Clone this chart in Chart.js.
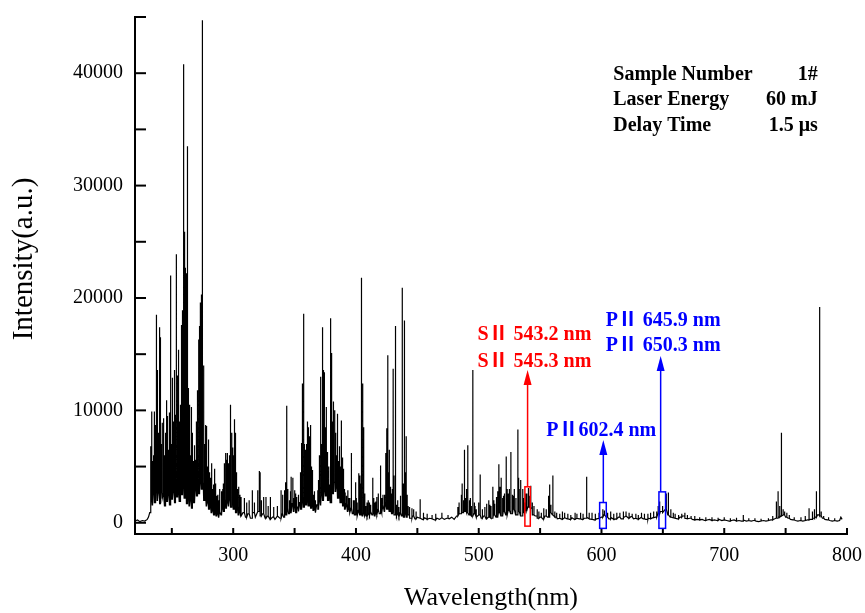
<!DOCTYPE html>
<html><head><meta charset="utf-8">
<script src="https://cdn.jsdelivr.net/npm/chart.js@4.4.1/dist/chart.umd.min.js"></script>
<style>html,body{margin:0;padding:0;background:#fff;}#wrap{width:865px;height:613px;}</style>
</head><body><div id="wrap"><canvas id="c" width="865" height="613"></canvas></div>
<script>
// ---- continuum (background) samples ----
const continuumNm = [
220,222,224,226,228,230,231,232,
233,234,235,236,237,238,239,240,241,242,
243,244,245,246,247,248,249,250,251,252,
253,254,255,256,257,258,259,260,261,262,
263,264,265,266,267,268,269,270,271,272,
273,274,275,276,277,278,279,280,281,282,
283,284,285,286,287,288,289,290,
291,292,293,294,295,296,297,298,299,300,
301,302,303,304,305,306,
308,310,312,314,316,318,320,322,324,326,
328,330,332,334,336,338,340,
341,342,343,344,345,346,347,348,349,350,
351,352,353,354,355,356,357,358,359,360,
361,362,363,364,365,366,367,368,369,370,
371,372,373,374,375,376,377,378,379,380,
381,382,383,384,385,386,387,388,389,390,
391,392,393,394,395,396,397,398,399,400,
401,402,403,404,405,406,407,408,409,410,
411,412,413,414,415,416,417,418,419,420,
421,422,423,424,425,426,427,428,429,430,
431,432,433,434,435,436,437,438,439,440,
441,
442,444,446,448,450,452,454,456,458,460,
462,464,466,468,470,472,474,476,478,480,
482,484,486,488,490,492,494,496,498,500,
502,504,506,508,510,512,514,516,518,520,
522,524,526,528,530,532,534,536,538,540,
542,544,546,548,550,552,554,556,558,560,
562,564,566,568,570,572,574,576,578,580,
582,584,586,588,590,592,594,596,598,600,
602,604,606,608,610,612,614,616,618,620,
622,624,626,628,630,632,634,636,638,640,
642,644,646,648,650,652,654,656,658,660,
662,664,666,668,670,672,674,676,678,680,
682,684,686,688,690,692,694,696,698,700,
702,704,706,708,710,712,714,716,718,720,
722,724,726,728,730,732,734,736,738,740,
742,744,746,748,750,752,754,756,758,760,
762,764,766,768,770,772,774,776,778,780,
782,784,786,788,790,792,794,795,796
];
const continuumLevel = [
150,250,100,200,150,300,500,900,
2200,1600,3000,1800,3500,2000,2800,1700,3200,2200,
2600,1500,3000,1900,2700,1600,3300,2100,2900,1800,
3600,2300,3000,1900,3800,2500,3200,2200,2800,1700,
2400,1500,2100,1300,2500,1800,3200,2400,3800,2600,
4500,3000,3500,2000,2400,1500,1900,1200,1600,900,
1300,700,1100,600,900,500,1000,700,
1500,1000,2000,1300,2200,1500,2500,1400,2000,1200,
1800,900,1400,700,1100,600,
900,500,800,400,900,500,1000,600,800,400,
600,300,500,300,600,400,800,
500,1200,700,1300,800,1500,900,1700,1000,1500,
900,1400,1000,1800,1200,2200,1400,2500,1600,2300,
1500,2100,1300,1800,1100,1400,900,1600,1200,2400,
1600,3000,2000,3500,2400,3200,2000,2600,1800,3200,
2600,3600,2800,3400,2200,3000,1800,2500,1500,2000,
1200,1700,1000,1400,900,1300,800,1200,700,1000,
600,1100,700,900,600,1000,600,800,500,900,
600,1000,700,1100,600,900,700,1200,800,1400,
900,1600,1000,1800,1200,1600,1000,1300,800,1200,
700,1000,600,900,500,900,600,1000,500,800,
500,
700,400,600,350,500,400,300,450,300,400,
350,250,400,300,450,300,400,350,500,300,
600,800,900,1000,900,700,600,800,500,700,
400,600,350,500,400,700,500,900,600,1000,
700,1100,800,1200,700,1000,600,900,1100,1400,
1300,700,600,400,500,350,600,500,900,700,
500,350,400,300,450,350,300,450,300,400,
350,300,400,500,350,300,250,350,400,500,
700,500,350,450,300,350,500,350,450,600,
400,550,350,400,300,450,350,300,400,350,
450,500,800,1000,900,1200,700,500,450,400,
350,500,600,400,350,400,300,250,300,250,
300,200,250,300,200,250,200,300,200,250,
200,150,200,250,150,200,150,250,150,200,
150,200,150,100,150,200,150,200,250,300,
400,500,600,700,500,400,300,250,200,150,
200,150,200,250,300,400,500,700,600,400,
300,250,200,150,200,150,200,500,300
];
// ---- strong emission lines: position (nm) and peak intensity (a.u.) ----
const lineNm = [
233.0,233.8,234.5,235.7,236.3,237.0,237.6,238.2,238.7,239.3,
239.8,240.5,241.2,242.0,242.5,243.6,244.3,245.3,246.0,246.6,
247.3,248.0,248.8,249.5,250.2,250.7,251.8,252.5,253.4,254.3,
255.0,255.6,256.2,256.7,257.4,258.0,258.8,259.6,260.4,261.3,
262.0,262.9,263.5,264.1,265.0,266.1,266.9,267.7,268.6,269.7,
270.3,270.8,271.6,272.4,273.2,274.0,274.6,275.1,275.6,276.2,
276.8,277.3,278.3,279.0,279.7,280.5,281.3,282.7,284.8,285.9,
287.5,289.0,290.5,292.5,293.6,294.5,295.5,296.4,297.4,298.5,
299.6,300.7,301.8,302.9,304.5,306.4,309.1,311.0,313.0,315.4,
317.3,320.0,321.3,321.9,323.0,324.8,326.7,328.5,330.3,333.0,
336.0,339.0,340.3,341.6,342.5,343.6,344.5,345.8,347.2,348.6,
349.5,350.1,351.7,352.8,354.5,355.6,356.6,357.4,358.2,359.2,
360.2,361.3,362.4,363.2,364.3,365.5,367.0,368.9,370.0,371.0,
372.0,372.9,373.7,374.5,375.6,376.5,377.5,378.6,379.6,380.4,
381.3,382.4,383.5,385.2,386.6,387.9,388.8,389.8,391.2,393.4,
395.0,396.3,397.8,399.6,401.0,402.3,403.2,404.5,405.5,406.3,
408.0,410.0,412.0,413.7,415.5,417.0,419.7,421.0,423.3,424.3,
425.1,425.9,427.2,428.5,429.5,430.3,431.9,433.0,435.0,437.6,
439.5,440.9,442.5,443.5,445.6,447.0,449.0,452.3,455.0,458.0,
462.0,465.0,470.0,475.0,483.0,485.7,486.5,487.5,488.4,489.3,
490.3,491.1,492.5,494.0,495.2,496.5,498.0,501.2,503.0,505.0,
508.2,510.0,511.5,513.0,514.5,516.4,518.3,519.5,521.0,522.4,
524.0,526.2,527.5,529.0,530.3,531.9,533.0,534.2,535.8,537.5,
539.2,540.5,541.5,542.4,543.5,545.0,547.5,549.0,551.0,553.0,
555.0,556.9,557.7,558.8,560.4,562.0,566.0,570.0,575.0,580.0,
583.0,587.9,590.0,595.0,601.1,602.4,605.0,610.0,615.0,620.0,
625.0,630.0,635.0,640.0,645.0,646.2,647.4,649.7,652.8,654.5,
656.5,660.0,665.4,670.0,676.0,690.0,700.0,715.3,725.0,736.0,
742.5,743.8,746.6,748.0,749.2,751.0,769.1,771.8,775.1,777.2,
778.0,779.0
];
const lineHeight = [
6800,9900,5500,9900,8700,4800,18500,7500,13600,6000,
17400,16500,7000,5500,8900,9300,6000,10900,7000,9500,
6500,9800,22000,7000,5500,12900,13600,12400,23900,13100,
8000,15400,9000,10500,7500,17600,18900,40800,25900,22700,
22200,33500,12000,10500,6000,10300,8000,5500,6900,6500,
9000,11800,16300,17500,19600,20300,44700,37600,14000,11500,
7000,8700,8600,5000,7400,4500,4000,5300,4800,3500,
2500,3000,2800,5300,6200,5600,6200,5300,10500,8000,
6700,9200,8000,4200,3200,2300,2200,1800,2000,2900,
1800,2900,4600,4500,2000,2300,2300,1500,2300,1400,
1500,2900,2500,2900,3600,10400,3000,2000,4100,4000,
2200,2900,2300,2000,3800,7100,12400,18600,5000,5900,
9000,8500,7700,8700,4700,2500,2000,2900,6000,13000,
7000,17400,13600,13400,10300,6300,5000,3400,18200,15100,
10800,10000,8000,9700,6800,9100,5800,4800,2700,2900,
2200,6200,2000,3600,1800,4400,4200,21800,12400,8500,
1500,2000,1600,4000,1800,2300,5100,2200,2500,6200,
8400,14900,6500,2000,3000,13700,17500,1600,1400,20900,
18000,7700,1500,1400,1300,1200,1000,2100,900,800,
700,800,900,700,1400,2000,3500,2000,6500,2200,
3000,6900,2000,1500,13600,1800,1200,4300,1200,1400,
2000,1500,3200,1700,2300,5200,4000,2200,2600,5900,
2600,6300,2500,3000,2200,8300,3000,3800,3000,1800,
2600,3100,2400,3300,1800,1500,1200,1000,900,1300,
1200,2400,3400,1600,4200,1000,800,900,700,800,
900,4100,900,800,1200,1100,900,800,900,1000,
800,700,800,900,1000,1500,1900,1500,2600,2700,
1200,800,800,700,600,500,500,700,400,400,
1900,2800,8000,1200,1000,900,1300,1000,2800,19200,
3000,1000
];
// ---- weaker lines filling the dense regions ----
const weakLineNm = [
232.5,233.4,234.1,235.0,235.3,236.8,237.3,238.0,239.0,240.2,
240.8,241.6,242.2,243.0,243.3,244.0,244.7,245.0,245.7,246.3,
247.0,247.7,248.4,249.2,249.8,250.5,251.2,251.5,252.2,252.8,
253.1,253.8,254.6,255.3,256.0,256.5,257.0,257.7,258.4,259.2,
259.9,260.8,261.0,261.7,262.4,263.2,263.8,264.5,264.8,265.5,
265.8,266.5,267.3,268.0,268.3,269.0,269.3,270.0,270.6,271.2,
271.9,272.1,272.7,273.0,273.6,274.3,275.9,276.5,277.0,277.7,
278.0,278.6,279.3,280.0,280.8,281.7,282.2,283.3,284.0,285.3,
286.5,288.2,291.5,292.0,293.0,294.0,295.0,296.0,297.0,298.0,
299.0,300.2,301.3,302.3,303.5,305.5,
342.0,346.5,350.8,353.5,355.0,356.1,357.8,358.7,359.7,360.7,
361.8,362.8,363.7,364.8,366.2,369.5,370.5,371.5,372.5,373.3,
374.1,375.0,376.0,377.0,378.0,379.1,379.9,380.8,381.8,382.9,
384.0,384.6,385.8,387.2,388.3,389.3,390.5,392.3,394.2,398.5,
400.3,403.8,407.2,409.0,411.0,414.5,416.2,418.2,420.3,422.0,
426.5,427.8,429.0,431.0,432.5,434.0,436.3,438.5,440.2,441.6,
484.0,486.0,489.8,493.2,497.0,500.0,506.5,509.1,512.3,515.5,
517.3,520.2,523.2,525.0,528.3,532.5,536.6,538.3,
563.5,568.2,572.6,578.5,585.0,592.3,598.0,607.5,612.5,617.8,
622.5,628.0,632.6,637.8,642.5,658.5,662.8,667.9,673.0,680.0,
685.0,695.0,705.0,710.0,720.0,730.0,739.5,745.2,753.0,757.0,
762.5,766.0,773.5,781.0,785.0,790.0
];
const weakLineHeight = [
3500,5000,4200,6000,4500,6200,5200,7000,8000,6500,
9000,5800,7200,6400,7800,5200,6800,8000,6200,7500,
5600,7600,6800,8200,6000,7400,9000,7000,8800,9600,
7200,10000,7800,9400,7200,8000,9600,8200,11000,9000,
14000,12000,9000,13000,11000,9000,8000,7000,5500,5000,
4200,6000,4800,4000,5200,4600,5600,6500,8000,9500,
11000,12000,13000,11000,15000,16000,9000,6500,5800,6000,
5000,5600,4200,4800,3600,3200,3800,3000,3400,2800,
2400,2000,3000,3500,4200,4800,4000,4500,6000,5500,
5000,6000,5500,4500,3000,2500,
2400,2800,2600,2500,4500,6000,7000,6500,7000,6000,
6500,5500,5000,3500,2800,3800,5500,8000,9000,10000,
9000,8500,7000,5500,4000,6000,11000,9000,8500,7000,
6000,5000,5500,5000,4500,3500,3000,2400,2200,2000,
2200,3500,2600,1800,1800,2200,1900,2600,3000,2500,
4500,3200,2600,4200,3200,2000,2400,3500,4500,2500,
1800,2500,3000,2200,1500,1800,1700,1600,2000,2800,
3200,2400,3000,3000,2400,4000,2200,2600,
900,1000,800,900,800,900,900,1000,900,1000,
900,800,900,800,1000,900,700,900,600,500,
500,450,400,450,400,350,600,1500,700,500,
500,600,1200,600,500,400
];
// ---- axes ----
const xMajorTicks = [300,400,500,600,700,800];
const xMinorTicks = [250,350,450,550,650,750];
const yMajorTicks = [0,10000,20000,30000,40000];
const yMinorTicks = [5000,15000,25000,35000,45000];
const xTitle = 'Wavelength(nm)';
const yTitle = 'Intensity(a.u.)';
// ---- info block ----
const infoLabels = ['Sample Number','Laser Energy','Delay Time'];
const infoValues = ['1#','60 mJ','1.5 μs'];
const infoI = [39840,37610,35300];
const infoLeftNm = 609.6, infoRightNm = 776.2;
// ---- marked lines (boxes + arrows) ----
const markColor = ['#ff0000','#0000ff','#0000ff'];
const markNm = [539.8,601.5,648.2];
const markBoxLeftNm = [537.6,598.5,646.8];
const markBoxRightNm = [542.0,603.9,652.2];
const markBoxLowI = [-300,-500,-500];
const markBoxHighI = [3200,1800,2750];
const markTipI = [13600,7370,14840];
const labelText = ['S\u2161 543.2 nm','S\u2161 545.3 nm','P\u2161602.4 nm','P\u2161 645.9 nm','P\u2161 650.3 nm'];
const labelColor = ['#ff0000','#ff0000','#0000ff','#0000ff','#0000ff'];
const labelNm = [499.0,499.0,555.0,603.4,603.4];
const labelI = [16710,14306,8190,17950,15730];

// build the line points
const events = [];
continuumNm.forEach((v,i)=>events.push({x:v,y:continuumLevel[i],p:0}));
lineNm.forEach((v,i)=>events.push({x:v,y:lineHeight[i],p:1}));
weakLineNm.forEach((v,i)=>events.push({x:v,y:weakLineHeight[i],p:1}));
events.sort((a,b)=>a.x-b.x || a.p-b.p);
const spectrum = [];
let foot = continuumLevel[0];
events.forEach(e=>{
  if(!e.p){ foot = e.y; spectrum.push({x:e.x,y:e.y}); }
  else { spectrum.push({x:e.x,y:foot},{x:e.x,y:e.y},{x:e.x,y:foot}); }
});

const SERIF = '"Liberation Serif","Times New Roman",serif';
const BOLD = 'bold 20px "Liberation Serif","Noto Sans CJK SC",serif';

const decor = {
  id:'decor',
  afterDatasetsDraw(chart){
    const {ctx, chartArea:ca} = chart;
    const x = chart.scales.x, y = chart.scales.y;
    ctx.save();
    ctx.strokeStyle = '#000'; ctx.lineWidth = 2;
    yMajorTicks.concat(yMinorTicks).forEach(v=>{
      const py = y.getPixelForValue(v);
      ctx.beginPath(); ctx.moveTo(ca.left, py); ctx.lineTo(ca.left+11, py); ctx.stroke();
    });
    xMajorTicks.concat(xMinorTicks).forEach(v=>{
      const px = x.getPixelForValue(v);
      ctx.beginPath(); ctx.moveTo(px, ca.bottom); ctx.lineTo(px, ca.bottom-6); ctx.stroke();
    });
    markNm.forEach((nm,i)=>{
      ctx.strokeStyle = markColor[i]; ctx.fillStyle = markColor[i]; ctx.lineWidth = 1.5;
      const l = x.getPixelForValue(markBoxLeftNm[i]), r = x.getPixelForValue(markBoxRightNm[i]);
      const t = y.getPixelForValue(markBoxHighI[i]), b = y.getPixelForValue(markBoxLowI[i]);
      ctx.strokeRect(l, t, r-l, b-t);
      const px = x.getPixelForValue(nm), tip = y.getPixelForValue(markTipI[i]);
      ctx.beginPath(); ctx.moveTo(px, t); ctx.lineTo(px, tip+12); ctx.stroke();
      ctx.beginPath(); ctx.moveTo(px, tip); ctx.lineTo(px-4, tip+15); ctx.lineTo(px+4, tip+15); ctx.closePath(); ctx.fill();
    });
    ctx.font = BOLD; ctx.textBaseline = 'middle'; ctx.textAlign = 'left';
    labelText.forEach((s,i)=>{
      ctx.fillStyle = labelColor[i];
      ctx.fillText(s, x.getPixelForValue(labelNm[i]), y.getPixelForValue(labelI[i]));
    });
    ctx.fillStyle = '#000';
    infoLabels.forEach((s,i)=>{
      const py = y.getPixelForValue(infoI[i]);
      ctx.textAlign = 'left'; ctx.fillText(s, x.getPixelForValue(infoLeftNm), py);
      ctx.textAlign = 'right'; ctx.fillText(infoValues[i], x.getPixelForValue(infoRightNm), py);
    });
    ctx.textAlign = 'center'; ctx.textBaseline = 'middle';
    ctx.font = '26px ' + SERIF;
    ctx.fillText(xTitle, (ca.left+ca.right)/2, 598);
    ctx.font = '29px ' + SERIF;
    ctx.save(); ctx.translate(24, 259); ctx.rotate(-Math.PI/2); ctx.fillText(yTitle, 0, 0); ctx.restore();
    ctx.restore();
  }
};

new Chart(document.getElementById('c'), {
  type:'line',
  data:{datasets:[{data:spectrum, borderColor:'#000', borderWidth:1.2, pointRadius:0, tension:0, fill:false}]},
  options:{
    responsive:false, animation:false, devicePixelRatio:1,
    layout:{padding:{top:17,right:18,left:0,bottom:0}},
    plugins:{legend:{display:false}, tooltip:{enabled:false}, title:{display:false}},
    scales:{
      x:{type:'linear', min:220, max:800,
         afterBuildTicks:s=>{s.ticks = xMajorTicks.map(v=>({value:v}));},
         afterFit:s=>{s.height = 79; s.paddingLeft = 0; s.paddingRight = 0;},
         grid:{display:true, drawOnChartArea:false, drawTicks:false},
         border:{display:true, color:'#000', width:2},
         ticks:{color:'#000', font:{family:SERIF, size:20}, padding:10, maxRotation:0, autoSkip:false, callback:v=>String(v)}},
      y:{type:'linear', min:-1000, max:45000,
         afterBuildTicks:s=>{s.ticks = yMajorTicks.map(v=>({value:v}));},
         afterFit:s=>{s.width = 135; s.paddingTop = 0; s.paddingBottom = 0;},
         grid:{display:true, drawOnChartArea:false, drawTicks:false},
         border:{display:true, color:'#000', width:2},
         ticks:{color:'#000', font:{family:SERIF, size:20}, padding:12, autoSkip:false, callback:v=>String(v)}}
    }
  },
  plugins:[decor]
});
</script></body></html>
